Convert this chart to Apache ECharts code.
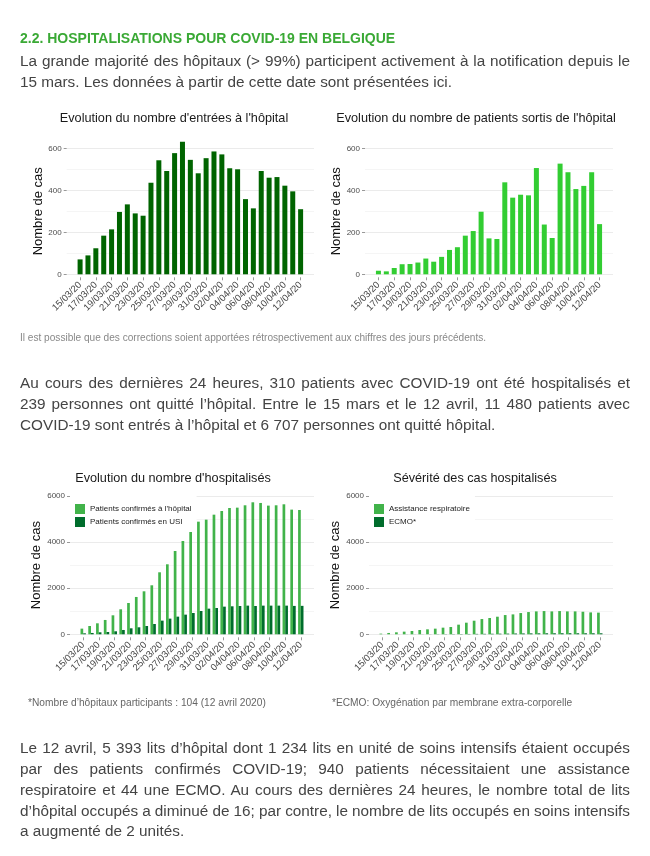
<!DOCTYPE html>
<html><head><meta charset="utf-8">
<script src="https://cdn.jsdelivr.net/npm/echarts@6/dist/echarts.min.js"></script>
<style>
html,body{margin:0;padding:0;background:#fff;}
#page{position:relative;width:650px;height:856px;overflow:hidden;font-family:"Liberation Sans",Arial,sans-serif;}
#chart{position:absolute;left:0;top:0;width:650px;height:856px;}
.t{position:absolute;white-space:nowrap;left:20px;}
.p{font-size:15.3px;color:#444;line-height:20px;}
.h{font-size:14px;font-weight:bold;color:#3aa935;line-height:16px;}
.n{font-size:10.1px;color:#888;line-height:12px;}
.m{font-size:10.2px;color:#666;line-height:12px;}
</style></head>
<body><div id="page"><div id="chart"></div>
<div class="t h" style="top:30px">2.2. HOSPITALISATIONS POUR COVID-19 EN BELGIQUE</div>
<div class="t p j" style="top:51px">La grande majorité des hôpitaux (&gt; 99%) participent activement à la notification depuis le</div>
<div class="t p" style="top:72px">15 mars. Les données à partir de cette date sont présentées ici.</div>
<div class="t n" style="top:332px">Il est possible que des corrections soient apportées rétrospectivement aux chiffres des jours précédents.</div>
<div class="t p j" style="top:373px">Au cours des dernières 24 heures, 310 patients avec COVID-19 ont été hospitalisés et</div>
<div class="t p j" style="top:394px">239 personnes ont quitté l’hôpital. Entre le 15 mars et le 12 avril, 11 480 patients avec</div>
<div class="t p" style="top:415px">COVID-19 sont entrés à l’hôpital et 6 707 personnes ont quitté hôpital.</div>
<div class="t m" style="top:697px;left:28px">*Nombre d’hôpitaux participants : 104 (12 avril 2020)</div>
<div class="t m" style="top:697px;left:332px">*ECMO: Oxygénation par membrane extra-corporelle</div>
<div class="t p j" style="top:738px">Le 12 avril, 5 393 lits d’hôpital dont 1 234 lits en unité de soins intensifs étaient occupés</div>
<div class="t p j" style="top:759px">par des patients confirmés COVID-19; 940 patients nécessitaient une assistance</div>
<div class="t p j" style="top:780px">respiratoire et 44 une ECMO. Au cours des dernières 24 heures, le nombre total de lits</div>
<div class="t p j" style="top:801px">d’hôpital occupés a diminué de 16; par contre, le nombre de lits occupés en soins intensifs</div>
<div class="t p" style="top:821px">a augmenté de 2 unités.</div>
</div>
<script>
const dates = ['15/03/20','16/03/20','17/03/20','18/03/20','19/03/20','20/03/20','21/03/20','22/03/20','23/03/20','24/03/20','25/03/20','26/03/20','27/03/20','28/03/20','29/03/20','30/03/20','31/03/20','01/04/20','02/04/20','03/04/20','04/04/20','05/04/20','06/04/20','07/04/20','08/04/20','09/04/20','10/04/20','11/04/20','12/04/20'];
const entrees = [71,90,124,184,214,297,333,290,279,436,543,492,577,631,545,481,553,585,571,505,500,358,314,492,460,463,422,395,310];
const sortis = [17,14,30,48,49,56,75,60,83,116,129,184,206,298,171,168,438,365,379,376,506,237,173,527,486,406,421,486,239];
const hospitalises = [246,361,477,622,824,1085,1359,1620,1865,2126,2690,3037,3615,4049,4468,4887,4974,5190,5349,5480,5495,5597,5727,5698,5583,5597,5640,5409,5393];
const usi = [43,58,87,101,130,188,260,304,361,448,593,680,766,853,925,1012,1113,1142,1200,1215,1229,1244,1229,1244,1244,1244,1244,1232,1234];
const respiratoire = [29,58,86,115,144,187,216,245,288,317,418,504,590,662,706,763,835,864,922,965,994,1008,994,1008,994,994,979,950,940];
const ecmo = [1,1,2,3,3,4,5,7,8,10,12,15,18,20,24,27,30,34,37,40,42,44,45,46,46,45,45,44,44];
const titles = ["Evolution du nombre d'entrées à l'hôpital","Evolution du nombre de patients sortis de l'hôpital","Evolution du nombre d'hospitalisés","Sévérité des cas hospitalisés"];
const yTicksTop = [0,200,400,600];
const yTicksBottom = [0,2000,4000,6000];

// justify lines
document.querySelectorAll('.j').forEach(el=>{
  const w = el.getBoundingClientRect().width;
  const spaces = (el.textContent.match(/ /g)||[]).length;
  if (spaces) el.style.wordSpacing = ((610 - w)/spaces) + 'px';
});

const labelIdx = dates.map((d,i)=>i).filter(i=>i%2===0);
function xAx(g){
  return {type:'value', gridIndex:g, min:-1.7, max:29.7, offset:3,
    axisLine:{show:false, onZero:false}, splitLine:{show:false},
    axisTick:{show:true, customValues:labelIdx, length:3, lineStyle:{color:'#999'}},
    axisLabel:{customValues:labelIdx, formatter:v=>dates[Math.round(v)], rotate:45, fontSize:9.5, color:'#444', margin:6}};
}
function yAx(g, ticks){
  return {type:'value', gridIndex:g, min:ticks[0], max:ticks[ticks.length-1], interval:ticks[1]-ticks[0],
    name:'Nombre de cas', nameLocation:'middle', nameGap:19, nameTextStyle:{fontSize:13, color:'#111'},
    axisLine:{show:false, onZero:false}, axisTick:{show:true, length:3, lineStyle:{color:'#999'}},
    axisLabel:{fontSize:8, color:'#4d4d4d', margin:5, formatter:v=>String(v)},
    splitLine:{lineStyle:{color:'#ebebeb', width:1}},
    minorTick:{show:false, splitNumber:2},
    minorSplitLine:{show:true, lineStyle:{color:'#f5f5f5', width:1}}};
}
const pts = arr => arr.map((v,i)=>[i,v]);
const titleCfg = (t,x,y)=>({text:t, left:x, top:y, textAlign:'center', padding:0, textStyle:{fontSize:12.7, fontWeight:'normal', color:'#1a1a1a'}});
const legendCfg = (names,x)=>({data:names, orient:'vertical', left:x, top:492, padding:[12,5,5,5], itemWidth:10, itemHeight:10, itemGap:3, icon:'rect', backgroundColor:'#fff', selectedMode:false, textStyle:{fontSize:8, color:'#222'}});

const option = {
  animation:false,
  textStyle:{fontFamily:'Liberation Sans, Arial, sans-serif'},
  title:[titleCfg(titles[0],174,112), titleCfg(titles[1],476,112), titleCfg(titles[2],173,472), titleCfg(titles[3],475,472)],
  legend:[legendCfg(["Patients confirmés à l'hôpital",'Patients confirmés en USI'],70), legendCfg(['Assistance respiratoire','ECMO*'],369)],
  grid:[
    {left:66.7, right:336, top:148.3, bottom:581.7},
    {left:365, right:37, top:148.3, bottom:581.7},
    {left:70, right:336, top:496, bottom:221.7},
    {left:369, right:37, top:496, bottom:221.7}
  ],
  xAxis:[xAx(0),xAx(1),xAx(2),xAx(3)],
  yAxis:[yAx(0,yTicksTop),yAx(1,yTicksTop),yAx(2,yTicksBottom),yAx(3,yTicksBottom)],
  series:[
    {type:'bar', name:'Entrées', xAxisIndex:0, yAxisIndex:0, data:pts(entrees), barWidth:5, clip:false, silent:true, itemStyle:{color:'#006400'}},
    {type:'bar', name:'Sortis', xAxisIndex:1, yAxisIndex:1, data:pts(sortis), barWidth:5, clip:false, silent:true, itemStyle:{color:'#32cd32'}},
    {type:'bar', name:"Patients confirmés à l'hôpital", xAxisIndex:2, yAxisIndex:2, data:pts(hospitalises), barWidth:2.7, barGap:'0%', silent:true, itemStyle:{color:'#41b34a'}},
    {type:'bar', name:'Patients confirmés en USI', xAxisIndex:2, yAxisIndex:2, data:pts(usi), barWidth:2.7, barGap:'0%', silent:true, itemStyle:{color:'#006d2c'}},
    {type:'bar', name:'Assistance respiratoire', xAxisIndex:3, yAxisIndex:3, data:pts(respiratoire), barWidth:2.7, barGap:'0%', silent:true, itemStyle:{color:'#41b34a'}},
    {type:'bar', name:'ECMO*', xAxisIndex:3, yAxisIndex:3, data:pts(ecmo), barWidth:2.7, barGap:'0%', silent:true, itemStyle:{color:'#006d2c'}}
  ]
};
const chart = echarts.init(document.getElementById('chart'), null, {renderer:'canvas'});
chart.setOption(option);
</script>
</body></html>
